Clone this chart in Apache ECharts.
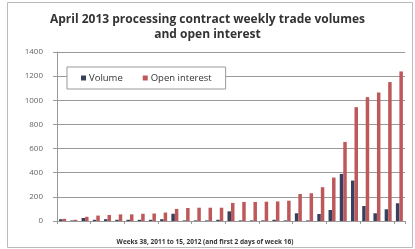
<!DOCTYPE html>
<html><head><meta charset="utf-8">
<script src="https://cdn.jsdelivr.net/npm/echarts@6/dist/echarts.min.js"></script>
<style>html,body{margin:0;padding:0;background:#fff}#c{width:415px;height:249px}</style>
</head><body><div id="c"></div>
<script>
var categories = ['W38','W39','W40','W41','W42','W43','W44','W45','W46','W47','W48','W49','W50','W51','W52',
  'W1','W2','W3','W4','W5','W6','W7','W8','W9','W10','W11','W12','W13','W14','W15','W16'];
var volume = [15,5,25,10,15,10,10,10,10,15,60,5,5,5,10,80,5,5,5,10,5,64,5,58,91,390,335,124,64,97,147];
var openInterest = [18,10,35,45,50,55,55,60,62,70,100,108,110,110,110,150,158,158,160,162,168,224,230,280,360,655,943,1026,1065,1151,1239];
var yTicks = [0,200,400,600,800,1000,1200,1400];

var chart = echarts.init(document.getElementById('c'));
chart.setOption({
  animation: false,
  title: [{
    text: 'April 2013 processing contract weekly trade volumes\nand open interest',
    left: 'center', top: 7,
    textStyle: {fontFamily: 'Open Sans', fontWeight: 'bold', fontSize: 12, color: '#333', lineHeight: 15}
  }, {
    text: 'Weeks 38, 2011 to 15, 2012 (and first 2 days of week 16)',
    left: 200, top: 234, textAlign: 'center',
    textStyle: {fontFamily: 'Open Sans', fontWeight: 'bold', fontSize: 6.5, color: '#333'}
  }],
  graphic: [{
    type: 'rect', shape: {x: 7.5, y: 2.5, width: 405, height: 245},
    style: {fill: 'none', stroke: '#bbb', lineWidth: 1}, z: -1
  }],
  legend: {
    left: 67, top: 67, width: 167, height: 23,
    padding: [6, 14, 6, 14],
    itemGap: 20,
    itemWidth: 5, itemHeight: 5,
    icon: 'rect',
    backgroundColor: '#fff', borderColor: '#999', borderWidth: 1,
    textStyle: {fontFamily: 'Open Sans', fontSize: 9.5, color: '#333', padding: [0, 0, 0, -2]},
    data: ['Volume', 'Open interest']
  },
  grid: {left: 57, right: 10, top: 52, bottom: 28},
  xAxis: {
    type: 'category', data: categories,
    axisLine: {lineStyle: {color: '#999'}},
    axisTick: {show: true, length: 3, lineStyle: {color: '#999'}},
    axisLabel: {show: false}
  },
  yAxis: {
    type: 'value', min: 0, max: 1400, interval: 200,
    axisLine: {show: true, lineStyle: {color: '#999'}},
    axisTick: {show: true, length: 4, lineStyle: {color: '#999'}},
    axisLabel: {margin: 14, fontFamily: 'Open Sans', fontSize: 8, color: '#666',
      formatter: function (v) { return yTicks.indexOf(v) >= 0 ? String(v) : ''; }},
    splitLine: {lineStyle: {color: '#999'}}
  },
  series: [{
    name: 'Volume', type: 'bar', data: volume,
    barWidth: 3.5, barGap: '0%',
    itemStyle: {color: '#36415f'}
  }, {
    name: 'Open interest', type: 'bar', data: openInterest,
    barWidth: 3.5, barGap: '0%',
    itemStyle: {color: '#bd585b'}
  }]
});
</script></body></html>
